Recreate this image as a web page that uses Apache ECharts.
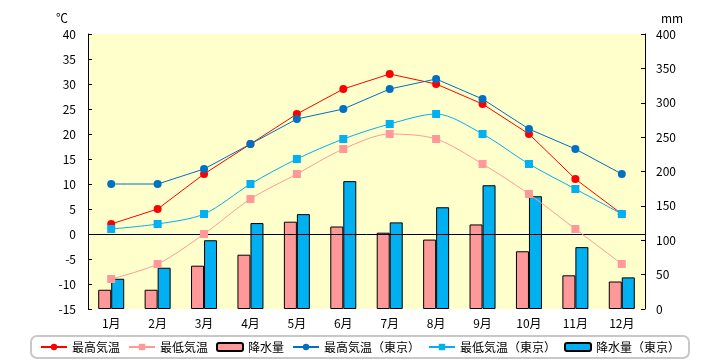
<!DOCTYPE html>
<html><head><meta charset="utf-8">
<script src="https://cdn.jsdelivr.net/npm/echarts@6/dist/echarts.min.js"></script>
<style>html,body{margin:0;padding:0;background:#fff}#c{width:720px;height:360px}</style>
</head><body><div id="c"></div>
<script>
const months = ['1月','2月','3月','4月','5月','6月','7月','8月','9月','10月','11月','12月'];
const highTemp = [2,5,12,18,24,29,32,30,26,20,11,4];
const lowTemp = [-9,-6,0,7,12,17,20,19,14,8,1,-6];
const precip = [28,28,63,79,127,120,111,101,123,84,49,40];
const highTempTokyo = [10,10,13,18,23,25,29,31,27,21,17,12];
const lowTempTokyo = [1,2,4,10,15,19,22,24,20,14,9,4];
const precipTokyo = [44,60,100,125,138,186,126,148,180,164,90,46];

const font = '"Noto Sans CJK JP", sans-serif';
const chart = echarts.init(document.getElementById('c'), null, {renderer:'canvas'});
chart.setOption({
  animation:false,
  textStyle:{fontFamily:font},
  grid:{left:88,right:75,top:34,bottom:51,show:true,backgroundColor:'#FFFFCC',borderWidth:0},
  legend:{
    bottom:2,left:'center',
    width:715,
    itemWidth:26,itemHeight:8,itemGap:8,
    borderColor:'#c8c8c8',borderWidth:2,borderRadius:6,
    padding:[5,9,5,9],
    textStyle:{fontSize:12,color:'#000',fontFamily:font},
    data:['最高気温','最低気温','降水量','最高気温（東京）','最低気温（東京）','降水量（東京）']
  },
  xAxis:{
    type:'category',data:months,
    axisLine:{show:false},axisTick:{show:false},
    axisLabel:{color:'#000',fontSize:12,margin:8,fontFamily:font}
  },
  yAxis:[
    {type:'value',min:-15,max:40,interval:5,
     name:'℃',nameLocation:'end',nameGap:10,nameTextStyle:{color:'#000',fontSize:12,align:'right',padding:[0,20,0,0]},
     axisLine:{show:true,lineStyle:{color:'#000',width:1}},
     axisTick:{show:true,inside:true,length:4,lineStyle:{color:'#000'}},
     splitLine:{show:false},
     axisLabel:{color:'#000',fontSize:12,margin:12}},
    {type:'value',min:0,max:400,interval:50,
     name:'mm',nameLocation:'end',nameGap:10,nameTextStyle:{color:'#000',fontSize:12,align:'left',padding:[0,0,0,16]},
     axisLine:{show:true,lineStyle:{color:'#000',width:1}},
     axisTick:{show:true,inside:true,length:4,lineStyle:{color:'#000'}},
     splitLine:{show:false},
     axisLabel:{color:'#000',fontSize:12,margin:11}}
  ],
  series:[
    {name:'降水量',type:'bar',yAxisIndex:1,data:precip,barWidth:13,barGap:'0%',
     itemStyle:{color:'#FF9999',borderColor:'#000',borderWidth:1},z:1},
    {name:'降水量（東京）',type:'bar',yAxisIndex:1,data:precipTokyo,barWidth:13,barGap:'0%',
     itemStyle:{color:'#00B0F0',borderColor:'#000',borderWidth:1},z:1},
    {name:'最高気温',type:'line',data:highTemp,symbol:'circle',symbolSize:8,
     lineStyle:{color:'#FF0000',width:1},itemStyle:{color:'#FF0000'},z:3,
     markLine:{silent:true,symbol:'none',label:{show:false},lineStyle:{color:'#000',width:1,type:'solid'},data:[{yAxis:0}],z:2}},
    {name:'最低気温',type:'line',data:lowTemp,symbol:'rect',symbolSize:8,smooth:0.3,
     lineStyle:{color:'#FF9999',width:1},itemStyle:{color:'#FF9999'},z:3},
    {name:'最高気温（東京）',type:'line',data:highTempTokyo,symbol:'circle',symbolSize:8,
     lineStyle:{color:'#0070C0',width:1},itemStyle:{color:'#0070C0'},z:3},
    {name:'最低気温（東京）',type:'line',data:lowTempTokyo,symbol:'rect',symbolSize:8,smooth:0.3,
     lineStyle:{color:'#00B0F0',width:1},itemStyle:{color:'#00B0F0'},z:3}
  ]
});
</script></body></html>
